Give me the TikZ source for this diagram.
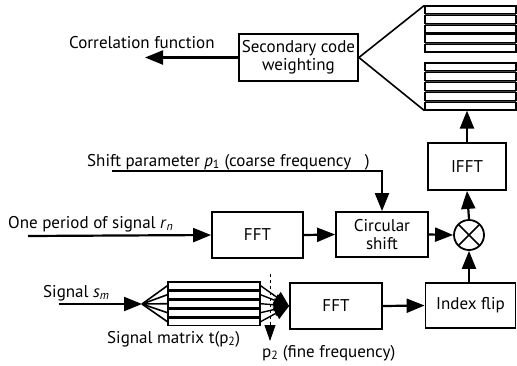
\documentclass[tikz,border=0pt]{standalone}
\usepackage{fontspec}
\setmainfont{PT Sans}
\usetikzlibrary{arrows.meta}
\begin{document}
\begin{tikzpicture}[x=1pt,y=-1pt,
  font=\fontsize{17}{19}\selectfont,
  box/.style={draw,line width=1.8pt,inner sep=1pt,align=center},
  arr/.style={line width=2.2pt,-{Triangle[length=18pt,width=14pt]}},
  ln/.style={line width=1.6pt},
  topbar/.style={draw,line width=1.2pt,fill=white,minimum width=91pt,minimum height=7.8pt,inner sep=0pt},
  mbar/.style={draw,line width=1.2pt,fill=white,minimum width=92pt,minimum height=7.4pt,inner sep=0pt},
  lbl/.style={inner sep=0pt,anchor=base west}]
\useasboundingbox (0,0) rectangle (517,365);

% boxes
\node[box,minimum width=119pt,minimum height=47pt] (sec) at (298.5,57.5) {Secondary code\\[-1pt]weighting};
\node[box,minimum width=78pt,minimum height=47pt] (ifft) at (467,166.5) {IFFT};
\node[draw,circle,line width=1.8pt,minimum size=30pt,inner sep=0pt,
  path picture={\draw[line width=1.6pt] (path picture bounding box.north west) -- (path picture bounding box.south east)
  (path picture bounding box.north east) -- (path picture bounding box.south west);}] (mul) at (469,235) {};
\node[box,minimum width=91pt,minimum height=46pt] (fft1) at (257.5,235) {FFT};
\node[box,minimum width=92pt,minimum height=45pt] (cs) at (382,234.5) {Circular\\[-1pt]shift};
\node[box,minimum width=92pt,minimum height=46pt] (fft2) at (336,306) {FFT};
\node[box,minimum width=90pt,minimum height=45pt] (flip) at (470.5,305.5) {Index flip};

% top bar groups
\fill[black!75] (425,6) rectangle (516,52);
\fill[black!75] (425,63) rectangle (516,110);
\foreach \i in {1,...,5}{
  \node[topbar] (t\i) at (470.5,{6+3.9+(\i-1)*9.55}) {};
  \node[topbar] (u\i) at (470.5,{63+3.9+(\i-1)*9.8}) {};
}
\draw[ln] (sec.east) -- (t1.north west);
\draw[ln] (sec.east) -- (u5.south west);

% labels
\node[lbl] (corrlbl) at (69,48) {Correlation function};
\node[lbl] (rnlbl) at (8,228) {One period of signal \textit{r}\textsubscript{\textit{n}}};
\node[lbl] (p1lbl) at (87,166) {Shift parameter \textit{p}\textsubscript{1} (coarse frequency\ \ \ )};
\node[lbl] (smlbl) at (43,297) {Signal \textit{s}\textsubscript{\textit{m}}};
\node[lbl] (tlbl) at (107,343) {Signal matrix t(p\textsubscript{2})};
\node[lbl] (p2lbl) at (262,357) {p\textsubscript{2} (fine frequency)};

% coordinates
\coordinate (corr) at (145,57.5);
\coordinate (rnstart) at (28,236);
\coordinate (p1start) at (112,171);
\coordinate (smstart) at (59,304);
\coordinate (fan) at (142,304);
\coordinate (dtop) at (270,274);
\coordinate (dbot) at (270,341);

% connectors
\draw[arr] (sec.west) -- (corr);
\draw[arr] (ifft.north) -- (ifft.north |- u5.south);
\draw[arr] (mul.north) -- (ifft.south);
\draw[arr] (cs.east) -- (mul.west);
\draw[arr] (fft1.east) -- (cs.west);
\draw[arr] (rnstart) -- (fft1.west);
\draw[arr] (p1start) -- (p1start -| cs.north) -- (cs.north);
\draw[arr] (fft2.east) -- (flip.west);
\draw[arr] (flip.north -| mul.south) -- (mul.south);
\draw[arr] (smstart) -- (fan);

% signal matrix
\foreach \i in {1,...,5}{
  \node[mbar] (m\i) at (214,{282+3.7+(\i-1)*9}) {};
}
\draw[dashed,line width=0.8pt,-{Triangle[length=16pt,width=11pt]}] (dtop) -- (dbot);
\foreach \i in {1,...,5}{
  \draw[ln] (fan) -- (m\i.west);
  \draw[line width=1.4pt,-{Triangle[length=15pt,width=13pt]}] (m\i.east) -- (fft2.west);
}
\end{tikzpicture}
\end{document}
